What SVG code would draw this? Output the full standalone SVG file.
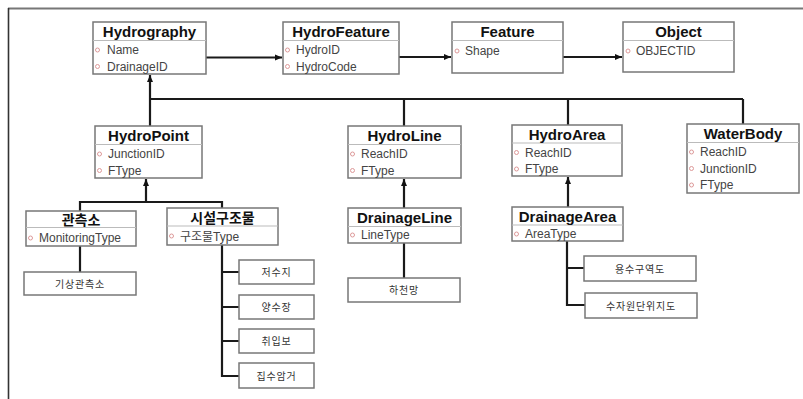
<svg xmlns="http://www.w3.org/2000/svg" width="803" height="399" viewBox="0 0 803 399">
<style>
.box{fill:#fff;stroke:#777;stroke-width:1.5}
.sep{stroke:#bbb;stroke-width:1}
.title{font-family:"Liberation Sans","Noto Sans CJK KR",sans-serif;font-weight:bold;font-size:15px;fill:#111;text-anchor:middle}
.ktitle{font-family:"Noto Sans CJK KR","Liberation Sans",sans-serif;font-weight:bold;font-size:14px;fill:#111;text-anchor:middle}
.attr{font-family:"Liberation Sans","Noto Sans CJK KR",sans-serif;font-size:12px;fill:#444}
.dot{fill:#fff;stroke:#d99;stroke-width:1}
.leaf{font-family:"Noto Sans CJK KR","Liberation Sans",sans-serif;font-size:10px;letter-spacing:0.8px;fill:#333;text-anchor:middle}
.con{fill:none;stroke:#1a1a1a;stroke-width:2.2}
</style>
<defs>
<marker id="ah" markerWidth="8" markerHeight="8" refX="7" refY="4" orient="auto" markerUnits="userSpaceOnUse"><path d="M0,1 L7,4 L0,7 z" fill="#111"/></marker>
</defs>
<line x1="8" y1="8.5" x2="803" y2="8.5" stroke="#777" stroke-width="1.8"/>
<line x1="8.5" y1="8" x2="8.5" y2="399" stroke="#333" stroke-width="1.6"/>

<g id="connectors">
<path class="con" d="M206,57.5 H282" marker-end="url(#ah)"/>
<path class="con" d="M399,57 H451" marker-end="url(#ah)"/>
<path class="con" d="M563,57 H622" marker-end="url(#ah)"/>
<path class="con" d="M150,126 V75" marker-end="url(#ah)"/>
<path class="con" d="M150,99 H743 M404,99 V126 M568,99 V125 M743,99 V124"/>
<path class="con" d="M146,202 V179" marker-end="url(#ah)"/>
<path class="con" d="M80,211 V202 H222 V208"/>
<path class="con" d="M404,208 V179" marker-end="url(#ah)"/>
<path class="con" d="M568,207 V177" marker-end="url(#ah)"/>
<path class="con" d="M80,246 V272"/>
<path class="con" d="M222,245 V376 H239 M222,272 H239 M222,307 H239 M222,341 H239"/>
<path class="con" d="M404,243 V278"/>
<path class="con" d="M567,241 V305 H585 M567,268 H584"/>
</g>

<g id="Hydrography">
<rect class="box" x="93" y="22" width="113" height="52"/>
<line class="sep" x1="93" y1="40.5" x2="206" y2="40.5"/>
<text class="title" x="149.5" y="37">Hydrography</text>
<circle class="dot" cx="97.5" cy="50" r="2"/><text class="attr" x="107" y="54">Name</text>
<circle class="dot" cx="97.5" cy="66.5" r="2"/><text class="attr" x="107" y="70.5">DrainageID</text>
</g>
<g id="HydroFeature">
<rect class="box" x="283" y="22" width="116" height="52"/>
<line class="sep" x1="283" y1="40.5" x2="399" y2="40.5"/>
<text class="title" x="341" y="37">HydroFeature</text>
<circle class="dot" cx="287.5" cy="50" r="2"/><text class="attr" x="296" y="54">HydroID</text>
<circle class="dot" cx="287.5" cy="66.5" r="2"/><text class="attr" x="296" y="70.5">HydroCode</text>
</g>
<g id="Feature">
<rect class="box" x="452" y="22" width="111" height="51"/>
<line class="sep" x1="452" y1="40.5" x2="563" y2="40.5"/>
<text class="title" x="507.5" y="37">Feature</text>
<circle class="dot" cx="457" cy="51" r="2"/><text class="attr" x="465" y="55">Shape</text>
</g>
<g id="Object">
<rect class="box" x="623" y="22" width="111" height="50"/>
<line class="sep" x1="623" y1="40.5" x2="734" y2="40.5"/>
<text class="title" x="678.5" y="37">Object</text>
<circle class="dot" cx="628" cy="51" r="2"/><text class="attr" x="636" y="55">OBJECTID</text>
</g>

<g id="HydroPoint">
<rect class="box" x="95" y="126" width="107" height="52"/>
<line class="sep" x1="95" y1="144.5" x2="202" y2="144.5"/>
<text class="title" x="148.5" y="141">HydroPoint</text>
<circle class="dot" cx="99.5" cy="154" r="2"/><text class="attr" x="108" y="158">JunctionID</text>
<circle class="dot" cx="99.5" cy="170.5" r="2"/><text class="attr" x="108" y="174.5">FType</text>
</g>
<g id="HydroLine">
<rect class="box" x="348" y="126" width="113" height="52"/>
<line class="sep" x1="348" y1="144.5" x2="461" y2="144.5"/>
<text class="title" x="404.5" y="141">HydroLine</text>
<circle class="dot" cx="352.5" cy="154" r="2"/><text class="attr" x="361" y="158">ReachID</text>
<circle class="dot" cx="352.5" cy="170.5" r="2"/><text class="attr" x="361" y="174.5">FType</text>
</g>
<g id="HydroArea">
<rect class="box" x="512" y="125" width="110" height="51"/>
<line class="sep" x1="512" y1="143" x2="622" y2="143"/>
<text class="title" x="567" y="140">HydroArea</text>
<circle class="dot" cx="516.5" cy="152.5" r="2"/><text class="attr" x="525" y="156.5">ReachID</text>
<circle class="dot" cx="516.5" cy="169" r="2"/><text class="attr" x="525" y="173">FType</text>
</g>
<g id="WaterBody">
<rect class="box" x="687" y="124" width="112" height="69"/>
<line class="sep" x1="687" y1="142.5" x2="799" y2="142.5"/>
<text class="title" x="743" y="139">WaterBody</text>
<circle class="dot" cx="691.5" cy="152" r="2"/><text class="attr" x="700" y="156">ReachID</text>
<circle class="dot" cx="691.5" cy="168.5" r="2"/><text class="attr" x="700" y="172.5">JunctionID</text>
<circle class="dot" cx="691.5" cy="185" r="2"/><text class="attr" x="700" y="189">FType</text>
</g>

<g id="관측소">
<rect class="box" x="26" y="211" width="110" height="35"/>
<line class="sep" x1="26" y1="227.5" x2="136" y2="227.5"/>
<text class="ktitle" x="81" y="225" font-size="13">관측소</text>
<circle class="dot" cx="30.5" cy="238" r="2"/><text class="attr" x="39" y="242">MonitoringType</text>
</g>
<g id="시설구조물">
<rect class="box" x="167" y="208" width="111" height="37"/>
<line class="sep" x1="167" y1="226" x2="278" y2="226"/>
<text class="ktitle" x="222.5" y="223">시설구조물</text>
<circle class="dot" cx="171.5" cy="236" r="2"/><text class="attr" x="180" y="240.5">구조물Type</text>
</g>
<g id="DrainageLine">
<rect class="box" x="348" y="208" width="113" height="35"/>
<line class="sep" x1="348" y1="226.5" x2="461" y2="226.5"/>
<text class="title" x="404.5" y="223">DrainageLine</text>
<circle class="dot" cx="352.5" cy="235" r="2"/><text class="attr" x="361" y="239">LineType</text>
</g>
<g id="DrainageArea">
<rect class="box" x="512" y="207" width="111" height="34"/>
<line class="sep" x1="512" y1="225" x2="623" y2="225"/>
<text class="title" x="567.5" y="222">DrainageArea</text>
<circle class="dot" cx="516.5" cy="234" r="2"/><text class="attr" x="525" y="238">AreaType</text>
</g>

<g id="기상관측소"><rect class="box" x="24" y="272" width="112" height="23"/><text class="leaf" x="80" y="287.5">기상관측소</text></g>
<g id="저수지"><rect class="box" x="239" y="260" width="75" height="24"/><text class="leaf" x="276.5" y="276">저수지</text></g>
<g id="양수장"><rect class="box" x="239" y="295" width="75" height="24"/><text class="leaf" x="276.5" y="311">양수장</text></g>
<g id="취입보"><rect class="box" x="239" y="329" width="75" height="24"/><text class="leaf" x="276.5" y="345">취입보</text></g>
<g id="집수암거"><rect class="box" x="239" y="363" width="75" height="25"/><text class="leaf" x="276.5" y="379.5">집수암거</text></g>
<g id="하천망"><rect class="box" x="348" y="278" width="112" height="24"/><text class="leaf" x="404" y="294">하천망</text></g>
<g id="용수구역도"><rect class="box" x="584" y="256" width="112" height="25"/><text class="leaf" x="640" y="272.5">용수구역도</text></g>
<g id="수자원단위지도"><rect class="box" x="585" y="293" width="112" height="25"/><text class="leaf" x="641" y="309.5">수자원단위지도</text></g>
</svg>
